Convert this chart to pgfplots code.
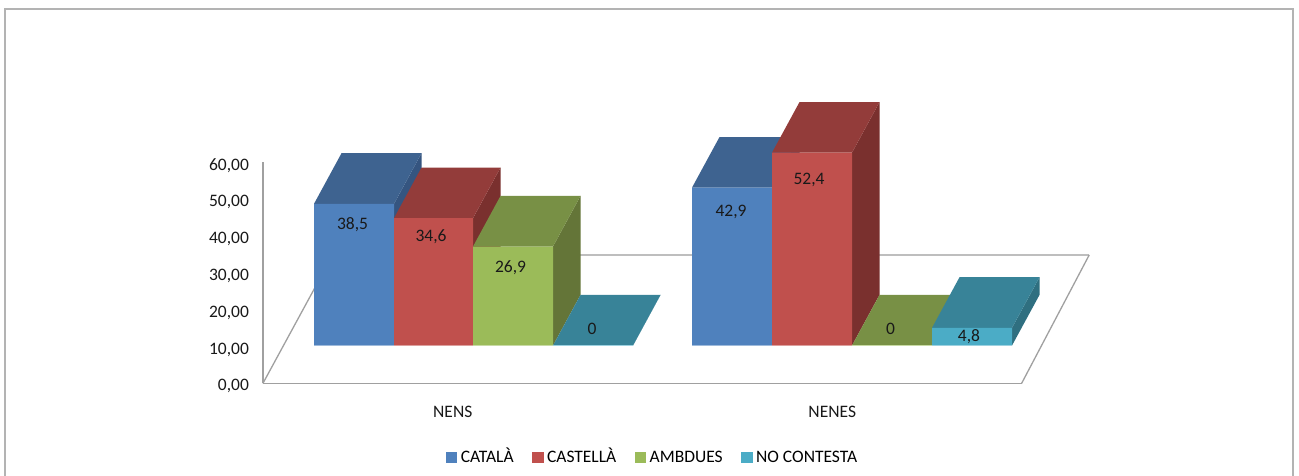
\documentclass[border=0pt]{standalone}
\usepackage{fontspec}
\setmainfont{Carlito}
\usepackage{pgfplots}
\pgfplotsset{compat=1.18}
\definecolor{bF}{HTML}{4F81BD}\definecolor{bT}{HTML}{3E6390}\definecolor{bS}{HTML}{355580}
\definecolor{rF}{HTML}{C0504D}\definecolor{rT}{HTML}{933C3A}\definecolor{rS}{HTML}{7A302E}
\definecolor{gF}{HTML}{9BBB59}\definecolor{gT}{HTML}{789045}\definecolor{gS}{HTML}{647538}
\definecolor{tF}{HTML}{4BACC6}\definecolor{tT}{HTML}{388398}\definecolor{tS}{HTML}{2F6F80}
\definecolor{axg}{HTML}{A0A0A0}
\definecolor{bkg}{HTML}{BEBEBE}
% one 3D bar: x0, x1, value, front, top, side
\newcommand{\barthree}[6]{%
  \addplot3[fill=#6,draw=none,forget plot] coordinates {(#2,0,0) (#2,1,0) (#2,1,#3) (#2,0,#3) (#2,0,0)};
  \addplot3[fill=#5,draw=none,forget plot] coordinates {(#1,0,#3) (#2,0,#3) (#2,1,#3) (#1,1,#3) (#1,0,#3)};
  \addplot3[fill=#4,draw=none,forget plot] coordinates {(#1,0,0) (#2,0,0) (#2,0,#3) (#1,0,#3) (#1,0,0)};
  \addplot3[draw=#4!55!white,line width=1.4pt,forget plot] coordinates {(#1,0,0) (#2,0,0)};
}
\begin{document}
\begin{tikzpicture}[x=1pt,y=1pt]
\useasboundingbox (0,0) rectangle (1299,476);
\fill[white] (0,0) rectangle (1299,476);
\draw[axg!80!white,line width=1.3pt] (5,0) -- (5,467) -- (1293,467) -- (1293,0);
\begin{axis}[
  at={(263pt,92.7pt)},anchor=south west,scale only axis,
  width=759pt,height=220.8pt,
  xmin=0,xmax=2,ymin=0,ymax=60,
  axis y line=left,axis x line=bottom,
  axis line style={-,draw=axg,line width=1.2pt},
  xtick={0.5,1.5},xticklabels={NENS,NENES},
  ytick={0,10,20,30,40,50,60},
  major tick length=0pt,
  tick style={draw=none},
  /pgf/number format/fixed,/pgf/number format/fixed zerofill,/pgf/number format/precision=2,/pgf/number format/use comma,/pgf/number format/assume math mode=true,
  ticklabel style={font=\fontsize{17.5}{19}\selectfont,text=black!90},
  xticklabel style={yshift=-19pt},
  yticklabel style={xshift=-10.5pt,yshift=-3pt},
  legend style={at={(axis description cs:0.5132,-0.3428)},anchor=center,draw=none,fill=none,
    legend columns=4,font=\fontsize{17.5}{19}\selectfont,inner sep=0pt,outer sep=0pt,
    nodes={text height=11.5pt,text depth=4pt},
    /tikz/every odd column/.style={column sep=2pt},
    /tikz/every even column/.style={column sep=16.5pt}},
  legend image code/.code={\fill[#1] (0pt,-3.5pt) rectangle (10.5pt,6.5pt);},
]
\addlegendimage{bF}\addlegendentry{CATALÀ}
\addlegendimage{rF}\addlegendentry{CASTELLÀ}
\addlegendimage{gF}\addlegendentry{AMBDUES}
\addlegendimage{tF}\addlegendentry{NO CONTESTA}
\end{axis}
\begin{axis}[
  at={(0pt,130.5pt)},anchor=origin,
  disabledatascaling,
  x={(1pt,0pt)},y={(27.5pt,50.6pt)},z={(0pt,3.68pt)},
  xmin=0,xmax=1299,ymin=-1,ymax=2,zmin=0,zmax=60,
  hide axis,clip=false,
]
% floor
\addplot3[draw=bkg,line width=1.8pt,forget plot] coordinates {(332,1.789,0) (1040,1.789,0)};
\addplot3[draw=axg,line width=1.3pt,forget plot] coordinates {(283.5,-0.747,0) (283.5,1.789,0)};
\addplot3[draw=axg,line width=1.3pt,forget plot] coordinates {(1042.2,-0.747,0) (1040,1.789,0)};
% NENS
\barthree{314}{394}{38.5}{bF}{bT}{bS}
\barthree{394}{473}{34.6}{rF}{rT}{rS}
\barthree{473}{553}{26.9}{gF}{gT}{gS}
\barthree{553}{633}{0}{tF}{tT}{tS}
% NENES
\barthree{692}{772}{42.9}{bF}{bT}{bS}
\barthree{772}{852}{52.4}{rF}{rT}{rS}
\barthree{852}{932}{0}{gF}{gT}{gS}
\barthree{932}{1012}{4.8}{tF}{tT}{tS}
\tikzset{vl/.style={font=\fontsize{17.5}{19}\selectfont,text=black!90,inner sep=0pt,yshift=-1.5pt}}
\node[vl] at (axis cs:352.5,0,33.3) {38,5};
\node[vl] at (axis cs:431,0,29.9) {34,6};
\node[vl] at (axis cs:510.5,0,21.6) {26,9};
\node[vl] at (axis cs:592,0,5.0) {0};
\node[vl] at (axis cs:731,0,36.6) {42,9};
\node[vl] at (axis cs:809,0,45.5) {52,4};
\node[vl] at (axis cs:890.5,0,5.0) {0};
\node[vl] at (axis cs:969,0,2.8) {4,8};
\end{axis}
\end{tikzpicture}
\end{document}
